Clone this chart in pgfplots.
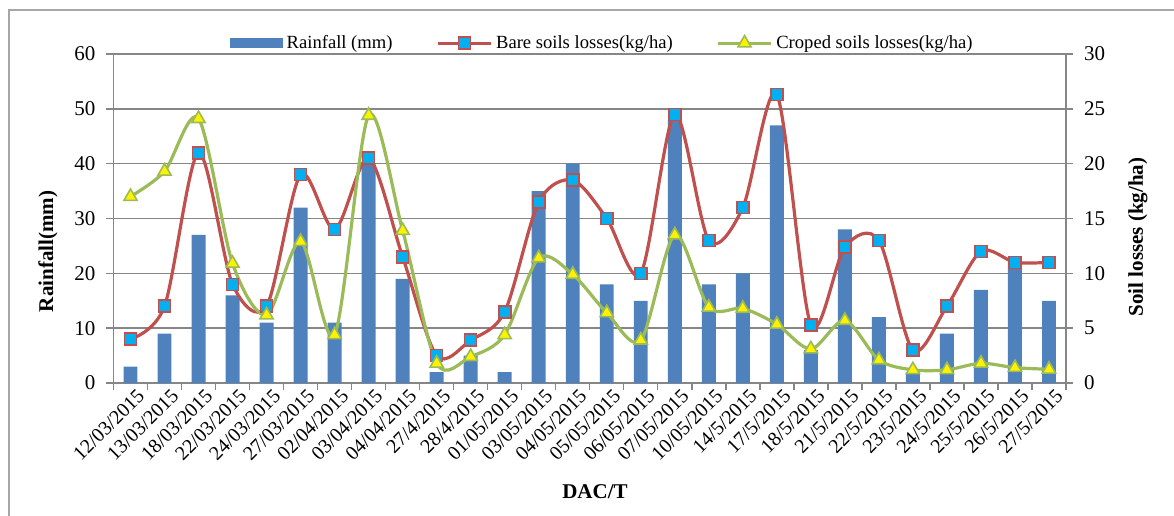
\documentclass[border=0pt]{standalone}
\usepackage{fontspec}
\setmainfont{Liberation Serif}
\usepackage{pgfplots}
\pgfplotsset{compat=1.18}
\definecolor{barblue}{HTML}{4F81BD}
\definecolor{linered}{HTML}{C0504D}
\definecolor{linegreen}{HTML}{9BBB59}
\definecolor{sqcyan}{HTML}{00B0F0}
\definecolor{axgray}{HTML}{868686}

\pgfplotsset{
  base/.style={
    scale only axis, width=476.25pt, height=164.5pt,
    xmin=-0.5, xmax=27.5, ymin=0,
    /pgf/number format/assume math mode=true,
    ticklabel style={font=\fontsize{10.5}{12}\selectfont},
    tick align=outside, major tick length=3.5pt,
    every tick/.style={axgray, line width=0.7pt},
    axis line style={axgray, line width=0.8pt},
  }
}

\begin{document}
\begin{tikzpicture}
\useasboundingbox (-56.75pt,-66pt) rectangle (530.25pt,191.5pt);
\draw[gray!70, line width=0.7pt] (-52.25pt,-70pt) -- (-52.25pt,186.5pt) -- (540pt,186.5pt);

\begin{axis}[base,
  ymax=60, ytick={0,10,...,60},
  axis y line*=left, axis x line*=bottom,
  ymajorgrids, grid style={axgray, line width=0.7pt},
  xtick={0,...,27}, xtick style={draw=none},
  xticklabels={12/03/2015,13/03/2015,18/03/2015,22/03/2015,24/03/2015,27/03/2015,02/04/2015,03/04/2015,04/04/2015,27/4/2015,28/4/2015,01/05/2015,03/05/2015,04/05/2015,05/05/2015,06/05/2015,07/05/2015,10/05/2015,14/5/2015,17/5/2015,18/5/2015,21/5/2015,22/5/2015,23/5/2015,24/5/2015,25/5/2015,26/5/2015,27/5/2015},
  x tick label style={rotate=45, anchor=north east, font=\fontsize{10}{12}\selectfont, inner sep=1pt, xshift=4pt},
  extra x ticks={-0.5,0.5,...,27.5}, extra x tick labels={},
  extra x tick style={grid=none, tick align=outside, xtick style={draw=axgray}, major tick length=3.5pt},
  yticklabel style={xshift=-2pt},
  xlabel={\bfseries DAC/T},
  xlabel style={at={(axis description cs:0.5055,0)}, anchor=center, yshift=-54.5pt, font=\fontsize{10.5}{12}\selectfont},
  ylabel={\bfseries Rainfall(mm)},
  ylabel style={at={(axis description cs:-0.0688,0.40)}, anchor=center, rotate=0, font=\fontsize{10.5}{12}\selectfont},
]
\addplot[ybar, bar width=0.41, fill=barblue, draw=none] coordinates {
  (0,3) (1,9) (2,27) (3,16) (4,11) (5,32) (6,11) (7,40) (8,19) (9,2)
  (10,5) (11,2) (12,35) (13,40) (14,18) (15,15) (16,48) (17,18) (18,20) (19,47)
  (20,6) (21,28) (22,12) (23,2) (24,9) (25,17) (26,22) (27,15)
};
\end{axis}

\begin{axis}[base,
  ymax=30, ytick={0,5,...,30},
  axis y line*=right, axis x line=none,
  yticklabel style={xshift=2pt},
  ylabel={\bfseries Soil losses (kg/ha)},
  ylabel style={at={(axis description cs:1.0756,0.444)}, anchor=center, font=\fontsize{10.5}{12}\selectfont},
  legend columns=3,
  legend style={at={(axis description cs:0.514,1.033)}, anchor=center, draw=none, fill=none,
    font=\fontsize{9.3}{11}\selectfont,
    /tikz/every even column/.append style={column sep=20pt}},
]
\addlegendimage{legend image code/.code={\fill[barblue] (0cm,-0.08cm) rectangle (0.92cm,0.08cm);}}
\addlegendentry{Rainfall (mm)}
\addplot[linered, line width=1.6pt, smooth, tension=0.5,
  mark=square*, mark size=3pt, mark options={fill=sqcyan, draw=linered, line width=0.8pt},
  legend image code/.code={\draw[mark repeat=2, mark phase=2] plot coordinates {(0cm,0cm) (0.46cm,0cm) (0.92cm,0cm)};}]
coordinates {
  (0,4) (1,7) (2,21) (3,9) (4,7) (5,19) (6,14) (7,20.5) (8,11.5) (9,2.5)
  (10,3.9) (11,6.5) (12,16.5) (13,18.5) (14,15) (15,10) (16,24.5) (17,13) (18,16) (19,26.3)
  (20,5.3) (21,12.4) (22,13) (23,3) (24,7) (25,12) (26,11) (27,11)
};
\addlegendentry{Bare soils losses(kg/ha)}
\addplot[linegreen, line width=1.6pt, smooth, tension=0.5,
  mark=triangle*, mark size=3.8pt, mark options={fill=yellow, draw=linegreen, line width=0.8pt},
  legend image code/.code={\draw[mark repeat=2, mark phase=2] plot coordinates {(0cm,0cm) (0.46cm,0cm) (0.92cm,0cm)};}]
coordinates {
  (0,17) (1,19.3) (2,24.1) (3,10.9) (4,6.2) (5,12.9) (6,4.4) (7,24.4) (8,13.9) (9,1.8)
  (10,2.4) (11,4.4) (12,11.4) (13,9.9) (14,6.4) (15,3.9) (16,13.5) (17,6.9) (18,6.8) (19,5.35)
  (20,3.1) (21,5.7) (22,2.1) (23,1.2) (24,1.2) (25,1.8) (26,1.4) (27,1.25)
};
\addlegendentry{Croped soils losses(kg/ha)}
\end{axis}
\end{tikzpicture}
\end{document}
